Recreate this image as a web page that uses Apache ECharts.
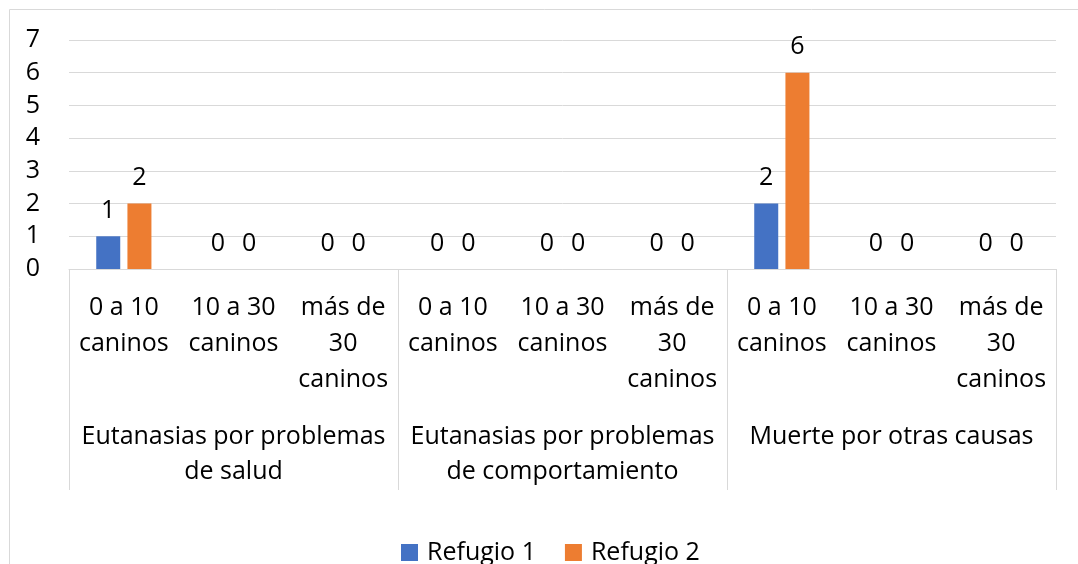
<!DOCTYPE html>
<html><head><meta charset="utf-8">
<script src="https://cdn.jsdelivr.net/npm/echarts@6/dist/echarts.min.js"></script>
<style>html,body{margin:0;padding:0;background:#fff}#c{width:1078px;height:564px}</style>
</head><body><div id="c"></div>
<script>
const subCategories = ["0 a 10\ncaninos","10 a 30\ncaninos","más de\n30\ncaninos","0 a 10\ncaninos","10 a 30\ncaninos","más de\n30\ncaninos","0 a 10\ncaninos","10 a 30\ncaninos","más de\n30\ncaninos"];
const groups = ["Eutanasias por problemas\nde salud","Eutanasias por problemas\nde comportamiento","Muerte por otras causas"];
const refugio1 = [1,0,0,0,0,0,2,0,0];
const refugio2 = [2,0,0,0,0,0,6,0,0];
const yTicks = [0,7,1];

const font = "'Open Sans', sans-serif";
const txt = '#000';
const gridColor = '#d9d9d9';
const fs = 25;
const chart = echarts.init(document.getElementById('c'));
chart.setOption({
  animation:false,
  graphic:[{type:'rect',shape:{x:9.5,y:9.5,width:1200,height:700},style:{fill:'none',stroke:gridColor,lineWidth:1},silent:true}],
  grid:{left:69,right:22,top:40,bottom:295},
  legend:{top:535,left:396,itemWidth:17,itemHeight:17,itemGap:29,icon:'rect',
    textStyle:{fontFamily:font,fontSize:fs,color:txt,padding:[0,0,0,4]},data:['Refugio 1','Refugio 2']},
  xAxis:[
    {type:'category',data:subCategories,position:'bottom',
     axisLine:{show:true,lineStyle:{color:gridColor,width:1}},axisTick:{show:false},
     axisLabel:{interval:0,margin:21,fontFamily:font,fontSize:fs,lineHeight:36,color:txt}},
    {type:'category',data:groups,position:'bottom',
     axisLine:{show:false},axisTick:{show:true,length:221,lineStyle:{color:gridColor,width:1}},
     axisLabel:{interval:0,margin:150,fontFamily:font,fontSize:fs,lineHeight:35,color:txt}}
  ],
  yAxis:{type:'value',min:yTicks[0],max:yTicks[1],interval:yTicks[2],
    axisLine:{show:false},axisTick:{show:false},
    splitLine:{lineStyle:{color:gridColor,width:1}},
    axisLabel:{fontFamily:font,fontSize:fs,color:txt,margin:29}},
  series:[
    {name:'Refugio 1',type:'bar',data:refugio1,barWidth:24,barGap:'30%',
     itemStyle:{color:'#4472C4'},
     label:{show:true,position:'top',distance:13,fontFamily:font,fontSize:fs,color:txt}},
    {name:'Refugio 2',type:'bar',data:refugio2,barWidth:24,barGap:'30%',
     itemStyle:{color:'#ED7D31'},
     label:{show:true,position:'top',distance:13,fontFamily:font,fontSize:fs,color:txt}}
  ]
});
</script></body></html>
